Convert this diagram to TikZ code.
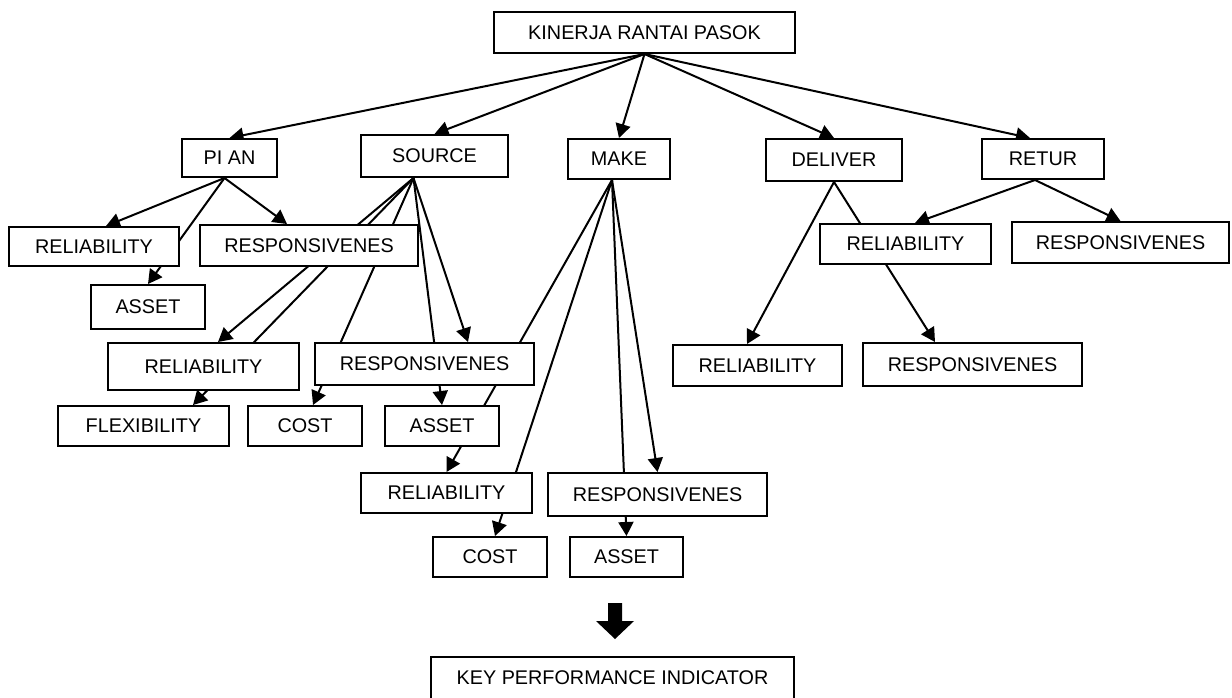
\documentclass[tikz,border=0pt]{standalone}
\usepackage{fontspec}
\setmainfont{Liberation Sans}
\usetikzlibrary{arrows.meta, backgrounds}

\begin{document}
\begin{tikzpicture}[x=1pt, y=-1pt, line width=2pt,
        box/.style = {draw, fill=white, inner sep=0pt, font=\fontsize{19.8}{24}\selectfont},
        arr/.style = {-{Triangle[length=14pt, width=15pt]}, line width=2pt}]
        \useasboundingbox (0,0) rectangle (1232,697);

        \node[box, minimum width=301pt, minimum height=41pt] (1) at (644.5,32.5) {KINERJA RANTAI PASOK};
        \node[box, minimum width=95pt, minimum height=38pt] (2) at (229.5,158) {PI AN};
        \node[box, minimum width=147pt, minimum height=42pt] (3) at (434.5,156) {SOURCE};
        \node[box, minimum width=102pt, minimum height=40pt] (4) at (619,159) {MAKE};
        \node[box, minimum width=136pt, minimum height=42pt] (5) at (834,160) {DELIVER};
        \node[box, minimum width=122pt, minimum height=40pt] (6) at (1043,159) {RETUR};
        \node[box, minimum width=170pt, minimum height=39pt] (7) at (94,246.5) {RELIABILITY};
        \node[box, minimum width=114pt, minimum height=44pt] (8) at (148,307) {ASSET};
        \node[box, minimum width=218pt, minimum height=41pt] (9) at (309,245.5) {RESPONSIVENES};
        \node[box, minimum width=191pt, minimum height=47pt] (10) at (203.5,366.5) {RELIABILITY};
        \node[box, minimum width=219pt, minimum height=42pt] (11) at (424.5,364) {RESPONSIVENES};
        \node[box, minimum width=171pt, minimum height=40pt] (12) at (143.5,426) {FLEXIBILITY};
        \node[box, minimum width=114pt, minimum height=40pt] (13) at (305,426) {COST};
        \node[box, minimum width=114pt, minimum height=40pt] (14) at (442,426) {ASSET};
        \node[box, minimum width=171pt, minimum height=40pt] (15) at (446.5,493) {RELIABILITY};
        \node[box, minimum width=219pt, minimum height=43pt] (16) at (657.5,494.5) {RESPONSIVENES};
        \node[box, minimum width=114pt, minimum height=40pt] (17) at (490,557) {COST};
        \node[box, minimum width=113pt, minimum height=40pt] (18) at (626.5,557) {ASSET};
        \node[box, minimum width=171pt, minimum height=40pt] (19) at (905.5,244) {RELIABILITY};
        \node[box, minimum width=217pt, minimum height=41pt] (20) at (1120.5,242.5) {RESPONSIVENES};
        \node[box, minimum width=169pt, minimum height=41pt] (21) at (757.5,365.5) {RELIABILITY};
        \node[box, minimum width=219pt, minimum height=43pt] (22) at (972.5,364.5) {RESPONSIVENES};
        \node[box, minimum width=363pt, minimum height=42pt] (23) at (612.5,678) {KEY PERFORMANCE INDICATOR};

        \coordinate (2s) at ([xshift=-5pt]2.south);
        \coordinate (3s) at ([xshift=-21pt]3.south);
        \coordinate (4s) at ([xshift=-7pt]4.south);
        \coordinate (6s) at ([xshift=-8pt]6.south);

        \begin{pgfonlayer}{background}
        \draw[arr] (1.south) -- (2.north);
        \draw[arr] (1.south) -- (3.north);
        \draw[arr] (1.south) -- (4.north);
        \draw[arr] (1.south) -- (5.north);
        \draw[arr] (1.south) -- ([xshift=-13pt]6.north);

        \draw[arr] (2s) -- ([xshift=12pt]7.north);
        \draw[arr] (2s) -- (8.north);
        \draw[arr] (2s) -- ([xshift=-22pt]9.north);

        \draw[arr] (3s) -- ([xshift=14.5pt]10.north);
        \draw[arr] (3s) -- ([xshift=49.5pt]12.north);
        \draw[arr] (3s) -- ([xshift=8pt]13.north);
        \draw[arr] (3s) -- (14.north);
        \draw[arr] (3s) -- ([xshift=43.5pt]11.north);

        \draw[arr] (4s) -- (15.north);
        \draw[arr] (4s) -- ([xshift=5pt]17.north);
        \draw[arr] (4s) -- (18.north);
        \draw[arr] (4s) -- (16.north);

        \draw[arr] (5.south) -- ([xshift=-10.5pt]21.north);
        \draw[arr] (5.south) -- ([xshift=-37.5pt]22.north);

        \draw[arr] (6s) -- ([xshift=9.5pt]19.north);
        \draw[arr] (6s) -- (20.north);
        \end{pgfonlayer}

        \fill (608,603) -- (622,603) -- (622,621) -- (634,621) -- (615,639) -- (596,621) -- (608,621) -- cycle;

    \end{tikzpicture}
\end{document}
